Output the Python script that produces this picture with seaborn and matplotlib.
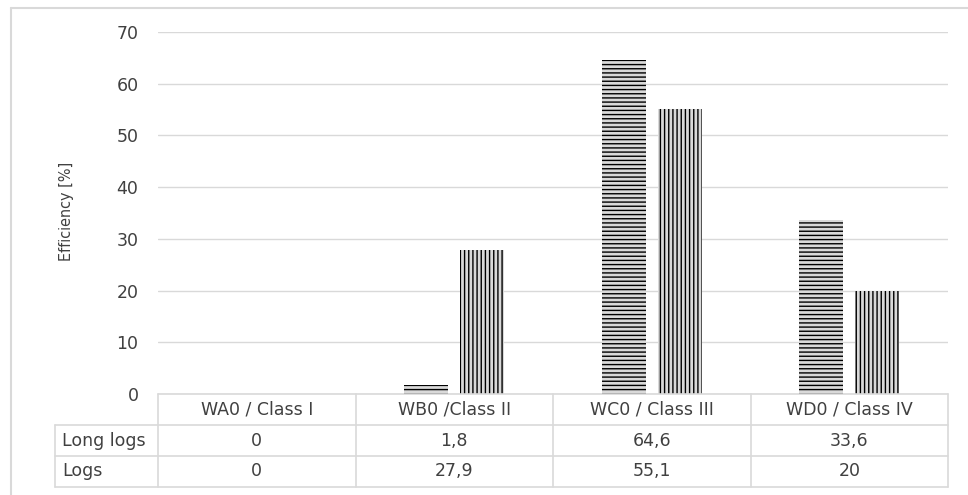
import matplotlib
matplotlib.use("Agg")
import matplotlib.pyplot as plt
import matplotlib.transforms as mtransforms
from matplotlib.lines import Line2D
import pandas as pd
import seaborn as sns

# ---- data ----
categories = ["WA0 / Class I", "WB0 /Class II", "WC0 / Class III", "WD0 / Class IV"]
series_names = ["Long logs", "Logs"]
long_logs = [0, 1.8, 64.6, 33.6]
logs = [0, 27.9, 55.1, 20]
y_ticks = [0, 10, 20, 30, 40, 50, 60, 70]

df = pd.DataFrame({
    "category": categories * 2,
    "series": [series_names[0]] * len(categories) + [series_names[1]] * len(categories),
    "value": long_logs + logs,
})

sns.set_theme(style="white")
plt.rcParams["font.family"] = ["DejaVu Sans"]
plt.rcParams["hatch.linewidth"] = 1.0

FS = 12.5
TXT = "#404040"
W, H = 968, 495
fig = plt.figure(figsize=(W / 100, H / 100), dpi=100)
fig.patch.set_facecolor("white")

ax_l, ax_r, ax_t, ax_b = 158, 948, 32, 394
ax = fig.add_axes([ax_l / W, 1 - ax_b / H, (ax_r - ax_l) / W, (ax_b - ax_t) / H])

sns.barplot(data=df, x="category", y="value", hue="series", order=categories,
            hue_order=series_names, width=0.567, gap=0.21, legend=False, ax=ax,
            errorbar=None)

hatches = ["----", "||||"]
for container, hatch in zip(ax.containers, hatches):
    for bar in container:
        bar.set_facecolor("#d9d9d9")
        bar.set_edgecolor("black")
        bar.set_hatch(hatch)
        bar.set_linewidth(0)

ax.set_xlim(-0.5, len(categories) - 0.5)
ax.set_ylim(0, 70)
ax.set_yticks(y_ticks)
ax.set_yticklabels([str(t) for t in y_ticks], fontsize=FS, color=TXT)
ax.tick_params(axis="y", length=0, pad=14)
ax.tick_params(axis="x", length=0, labelbottom=False)
ax.set_xlabel("")
ax.set_ylabel("")
ax.yaxis.grid(True, color="#d9d9d9", linewidth=1)
ax.set_axisbelow(True)
for s in ax.spines.values():
    s.set_visible(False)

fig.text(66 / W, 1 - 211 / H, "Efficiency [%]", rotation=90, ha="center", va="center",
         fontsize=11.5, color=TXT, fontstretch="condensed", family=["DejaVu Sans"])

# ---- data table below the plot ----
trans = mtransforms.blended_transform_factory(ax.transData, ax.transAxes)
axh = ax_b - ax_t
row_edges = [0, -(425 - ax_b) / axh, -(456 - ax_b) / axh, -(487 - ax_b) / axh]
n = len(categories)
label_left = -0.5 + (55 - ax_l) / ((ax_r - ax_l) / n)
grid_col = "#d9d9d9"

def hline(x0, x1, y):
    ax.add_line(Line2D([x0, x1], [y, y], transform=trans, color=grid_col, lw=1.2, clip_on=False))

def vline(x, y0, y1):
    ax.add_line(Line2D([x, x], [y0, y1], transform=trans, color=grid_col, lw=1.2, clip_on=False))

hline(-0.5, n - 0.5, row_edges[0])
for y in row_edges[1:]:
    hline(label_left, n - 0.5, y)
vline(label_left, row_edges[1], row_edges[3])
for i in range(n + 1):
    vline(i - 0.5, row_edges[0], row_edges[3])

def fmt(v):
    return f"{v:g}".replace(".", ",")

mid = lambda k: (row_edges[k] + row_edges[k + 1]) / 2
for i, cat in enumerate(categories):
    ax.text(i, mid(0), cat, transform=trans, ha="center", va="center", fontsize=FS, color=TXT)
    ax.text(i, mid(1), fmt(long_logs[i]), transform=trans, ha="center", va="center", fontsize=FS, color=TXT)
    ax.text(i, mid(2), fmt(logs[i]), transform=trans, ha="center", va="center", fontsize=FS, color=TXT)
lab_x = label_left + 0.035
ax.text(lab_x, mid(1), series_names[0], transform=trans, ha="left", va="center", fontsize=FS, color=TXT)
ax.text(lab_x, mid(2), series_names[1], transform=trans, ha="left", va="center", fontsize=FS, color=TXT)

# ---- chart-area frame ----
fig.add_artist(Line2D([10.5 / W, 10.5 / W], [0, 1 - 7.5 / H], transform=fig.transFigure,
                      color=grid_col, lw=1.5))
fig.add_artist(Line2D([10.5 / W, 1], [1 - 7.5 / H, 1 - 7.5 / H], transform=fig.transFigure,
                      color=grid_col, lw=1.5))

fig.savefig("out.png", dpi=100)
